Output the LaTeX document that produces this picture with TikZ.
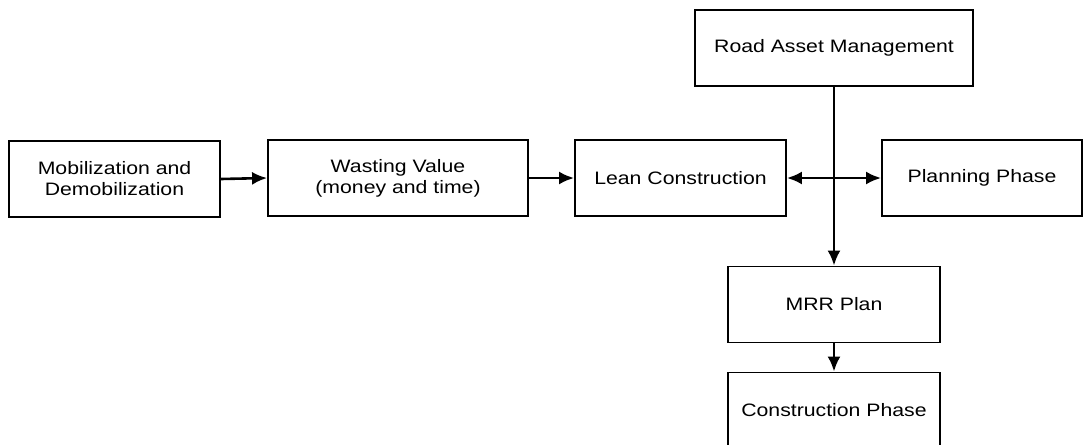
\documentclass[tikz,border=0pt]{standalone}
\usepackage{fontspec}
\setmainfont{Liberation Sans}[FakeStretch=1.18]
\usetikzlibrary{arrows.meta}

\begin{document}
\begin{tikzpicture}[x=0.5pt, y=-0.5pt,
  >={Latex[length=7.5pt,width=6.5pt]},
  box/.style={draw, line width=0.9pt, align=center, inner sep=0pt,
    minimum height=38pt, font=\fontsize{9}{10.5}\selectfont},
  link/.style={->, line width=1.3pt}]

  \useasboundingbox (0,0) rectangle (1084,445);

  % left row
  \node[box, minimum width=105.5pt] (mob) at (114.5,179) {Mobilization and\\Demobilization};
  \node[box, minimum width=130pt] (waste) at (398,178) {Wasting Value\\(money and time)};
  \node[box, minimum width=105.5pt] (lean) at (680.5,178) {Lean Construction};
  \node[box, minimum width=100pt] (plan) at (982,178) {Planning Phase};

  % column
  \node[box, minimum width=139pt] (ram) at (834,48) {Road Asset Management};
  \node[box, minimum width=106pt] (mrr) at (834,304.5) {MRR Plan};
  \node[box, minimum width=106pt, minimum height=37.5pt] (cons) at (834,410) {Construction Phase};

  \draw[link] (mob.east) -- (waste.west);
  \draw[link] (waste.east) -- (lean.west);
  \draw[link, <->] (lean.east) -- (plan.west);
  \draw[link] (ram.south) -- (mrr.north); %% RAM->MRR
  \draw[link] (mrr.south) -- (cons.north); %% MRR->construction
\end{tikzpicture}
\end{document}
